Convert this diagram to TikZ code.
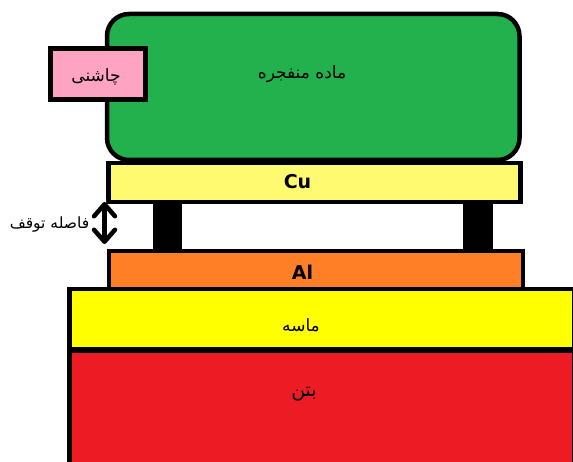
\documentclass[tikz,border=0pt]{standalone}
\usepackage{fontspec}
\TeXXeTstate=1
\newfontfamily\arabicfont[Script=Arabic]{DejaVu Sans}
\newfontfamily\latinbold{DejaVu Sans Bold}
\usetikzlibrary{arrows.meta}
\definecolor{greenc}{RGB}{34,177,76}
\definecolor{pinkc}{RGB}{255,163,195}
\definecolor{cuc}{RGB}{255,250,112}
\definecolor{alc}{RGB}{255,127,39}
\definecolor{sandc}{RGB}{255,255,0}
\definecolor{redc}{RGB}{237,28,36}
\tikzset{
  layer/.style={draw=black,line width=4.5pt,anchor=north west,inner sep=0pt,outer sep=0pt},
  pillar/.style={fill=black,anchor=north west,inner sep=0pt,outer sep=0pt,minimum width=29.5pt,minimum height=50pt},
  fatxt/.style={font=\arabicfont\fontsize{#1}{20}\selectfont,text=black,inner sep=0pt},
  fatxt/.default=17,
  entxt/.style={font=\latinbold\fontsize{19}{22}\selectfont,text=black,inner sep=0pt},
  gaparrow/.style={line width=4.5pt,line cap=round,{Straight Barb[length=12pt,width=21pt,line width=4.5pt,round]}-{Straight Barb[length=12pt,width=21pt,line width=4.5pt,round]}}
}
\begin{document}
\begin{tikzpicture}[x=1pt,y=-1pt]
\useasboundingbox (0,0) rectangle (573,462);
\fill[white] (0,0) rectangle (573,462);
\node[layer,fill=redc,minimum width=505pt,minimum height=113pt] (concrete) at (69.5,351) {};
\node[layer,fill=sandc,minimum width=505pt,minimum height=60pt] (sand) at (69.5,289) {};
\node[pillar] (pl) at (152.5,200) {};
\node[pillar] (pr) at (463,200) {};
\node[layer,fill=alc,minimum width=414pt,minimum height=38pt] (al) at (109,251) {};
\node[layer,fill=cuc,minimum width=412pt,minimum height=39pt] (cu) at (108.5,163) {};
\node[layer,fill=greenc,rounded corners=22pt,minimum width=412.5pt,minimum height=146pt] (he) at (107,14) {};
\node[layer,fill=pinkc,minimum width=95pt,minimum height=51pt] (det) at (50.5,48.5) {};
\node[fatxt] (t1) at (302,74) {\beginR ماده منفجره\endR};
\node[fatxt] (t2) at (96,77) {\beginR چاشنی\endR};
\node[entxt] (t3) at (297.5,182) {Cu};
\node[entxt] (t4) at (302.5,272) {Al};
\node[fatxt] (t5) at (301,325) {\beginR ماسه\endR};
\node[fatxt=19] (t6) at (304,394) {\beginR بتن\endR};
\node[fatxt=15.5] (t7) at (49.5,225) {\beginR فاصله توقف\endR};
\coordinate (gt) at (104.5,202);
\coordinate (gb) at (104.5,244);
\fill[white] (90,199) rectangle (106,204) (90,246) rectangle (106,250);
\draw[gaparrow] (gt) -- (gb);
\end{tikzpicture}
\end{document}
